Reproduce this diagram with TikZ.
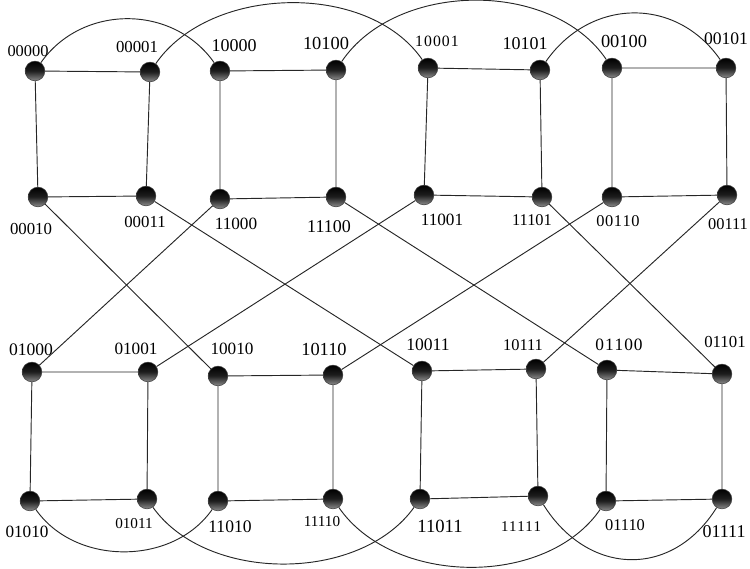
\documentclass[tikz,border=0pt]{standalone}
\usepackage{fontspec}
\setmainfont{Liberation Serif}
\begin{document}
\begin{tikzpicture}[x=0.75pt,y=-0.75pt,
  vtx/.style={circle,minimum size=14.8pt,inner sep=0pt,draw=black!75,line width=0.4pt,
    top color=black,bottom color=black!45,middle color=black!88},
  lbl/.style={inner sep=0pt,font=\fontsize{#1}{#1}\selectfont},
  edge/.style={draw=black!85,line width=0.7pt}]
\useasboundingbox (0,0) rectangle (750,568);
% vertices
\node[vtx] (n00000) at (35,71) {};
\node[vtx] (n00001) at (150,72) {};
\node[vtx] (n10000) at (220,71) {};
\node[vtx] (n10100) at (336,70) {};
\node[vtx] (n00010) at (38,197) {};
\node[vtx] (n00011) at (146,196) {};
\node[vtx] (n11000) at (220,199) {};
\node[vtx] (n11100) at (336,197) {};
\node[vtx] (n10001) at (428,68) {};
\node[vtx] (n10101) at (540,70) {};
\node[vtx] (n00100) at (612,68) {};
\node[vtx] (n00101) at (726,68) {};
\node[vtx] (n11001) at (424,195) {};
\node[vtx] (n11101) at (542,197) {};
\node[vtx] (n00110) at (612,197) {};
\node[vtx] (n00111) at (727,195) {};
\node[vtx] (n01000) at (32,372) {};
\node[vtx] (n01001) at (148,372) {};
\node[vtx] (n10010) at (218,376) {};
\node[vtx] (n10110) at (333,375) {};
\node[vtx] (n01010) at (30,501) {};
\node[vtx] (n01011) at (147,499) {};
\node[vtx] (n11010) at (218,501) {};
\node[vtx] (n11110) at (333,499) {};
\node[vtx] (n10011) at (422,371) {};
\node[vtx] (n10111) at (536,369) {};
\node[vtx] (n01100) at (607,370) {};
\node[vtx] (n01101) at (722,374) {};
\node[vtx] (n11011) at (420,499) {};
\node[vtx] (n11111) at (538,496) {};
\node[vtx] (n01110) at (606,501) {};
\node[vtx] (n01111) at (722,499) {};
% labels
\node[lbl=12.3] (l00000) at (28,51) {00000};
\node[lbl=12.6] (l00001) at (137,47) {00001};
\node[lbl=13.5] (l10000) at (234,46) {10000};
\node[lbl=13.8] (l10100) at (326,43) {10100};
\node[lbl=12.6] (l00010) at (31,229) {00010};
\node[lbl=12.6] (l00011) at (145,222) {00011};
\node[lbl=12.9] (l11000) at (236,224) {11000};
\node[lbl=13.5] (l11100) at (329,227) {11100};
\node[lbl=11.8] (l10001) at (437,41) {1\kern0.8pt0\kern0.8pt0\kern0.8pt0\kern0.8pt1};
\node[lbl=13.5] (l10101) at (525,44) {10101};
\node[lbl=13.8] (l00100) at (624,41) {00100};
\node[lbl=13.2] (l00101) at (726,39) {00101};
\node[lbl=12.9] (l11001) at (442,220) {11001};
\node[lbl=12.3] (l11101) at (532,220) {11101};
\node[lbl=12.3] (l00110) at (618,221) {0\kern0.4pt0\kern0.4pt1\kern0.4pt1\kern0.4pt0};
\node[lbl=12.3] (l00111) at (728,224) {00111};
\node[lbl=13.2] (l01000) at (31,350) {01000};
\node[lbl=12.9] (l01001) at (136,349) {01001};
\node[lbl=12.9] (l10010) at (232,349) {10010};
\node[lbl=13.8] (l10110) at (324,349) {10110};
\node[lbl=12.9] (l01010) at (27,532) {01010};
\node[lbl=11.4] (l01011) at (134,524) {01011};
\node[lbl=13.2] (l11010) at (230,527) {11010};
\node[lbl=11.4] (l11110) at (322,522) {11110};
\node[lbl=13.2] (l10011) at (428,345) {10011};
\node[lbl=12.3] (l10111) at (523,345) {10111};
\node[lbl=13.0] (l01100) at (619,345) {0\kern0.7pt1\kern0.7pt1\kern0.7pt0\kern0.7pt0};
\node[lbl=12.6] (l01101) at (725,342) {01101};
\node[lbl=14.0] (l11011) at (440,526) {11011};
\node[lbl=11.2] (l11111) at (521,527) {1\kern0.5pt1\kern0.5pt1\kern0.5pt1\kern0.5pt1};
\node[lbl=12.3] (l01110) at (625,525) {01110};
\node[lbl=13.5] (l01111) at (724,532) {01111};
% square edges
\draw[edge] (n00000)--(n00001)--(n00011)--(n00010)--(n00000);
\draw[edge] (n10000)--(n10100)--(n11100)--(n11000)--(n10000);
\draw[edge] (n10001)--(n10101)--(n11101)--(n11001)--(n10001);
\draw[edge] (n00100)--(n00101)--(n00111)--(n00110)--(n00100);
\draw[edge] (n01000)--(n01001)--(n01011)--(n01010)--(n01000);
\draw[edge] (n10010)--(n10110)--(n11110)--(n11010)--(n10010);
\draw[edge] (n10011)--(n10111)--(n11111)--(n11011)--(n10011);
\draw[edge] (n01100)--(n01101)--(n01111)--(n01110)--(n01100);
% cross edges
\draw[edge] (n00010)--(n10010);
\draw[edge] (n00011)--(n10011);
\draw[edge] (n11000)--(n01000);
\draw[edge] (n11100)--(n01100);
\draw[edge] (n11001)--(n01001);
\draw[edge] (n11101)--(n01101);
\draw[edge] (n00110)--(n10110);
\draw[edge] (n00111)--(n10111);
% top arcs
\draw[edge] (n00000) .. controls +(47,-67) and +(-47,-67) .. (n10000);
\draw[edge] (n00001) .. controls +(60,-87) and +(-60,-87) .. (n10001);
\draw[edge] (n10100) .. controls +(60,-89) and +(-60,-89) .. (n00100);
\draw[edge] (n10101) .. controls +(50,-72) and +(-50,-72) .. (n00101);
% bottom arcs
\draw[edge] (n01010) .. controls +(45,65) and +(-45,65) .. (n11010);
\draw[edge] (n01011) .. controls +(60,84) and +(-60,84) .. (n11011);
\draw[edge] (n11110) .. controls +(60,87) and +(-60,87) .. (n01110);
\draw[edge] (n11111) .. controls +(50,80) and +(-50,80) .. (n01111);
\end{tikzpicture}
\end{document}
